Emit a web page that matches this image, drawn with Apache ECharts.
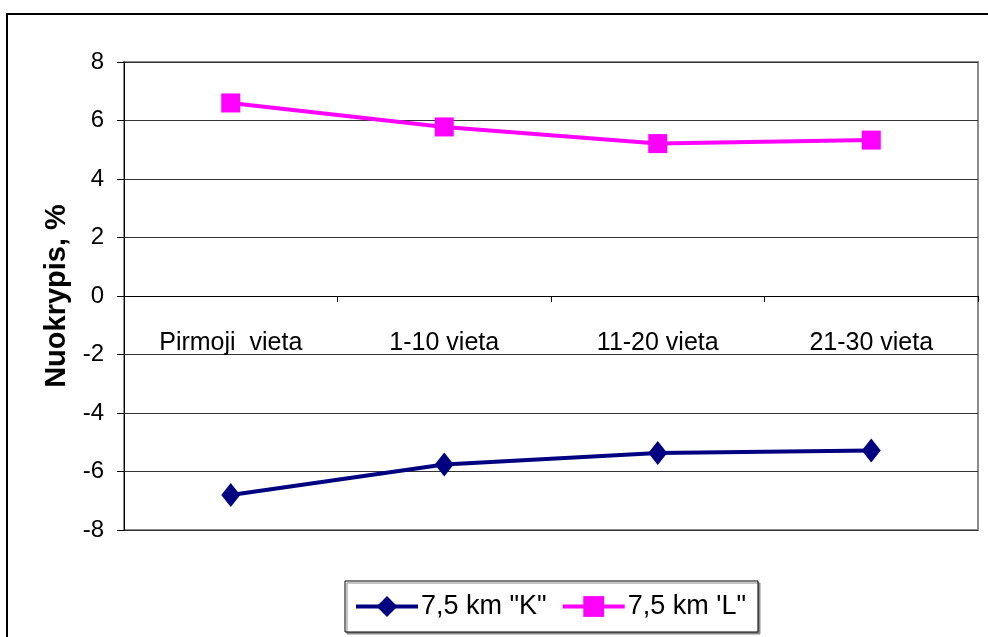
<!DOCTYPE html>
<html>
<head>
<meta charset="utf-8">
<script src="https://cdn.jsdelivr.net/npm/echarts@6/dist/echarts.min.js"></script>
<style>
  html, body { margin: 0; padding: 0; background: #fff; }
  #chart { width: 988px; height: 637px; }
</style>
</head>
<body>
<div id="chart"></div>
<script>
// Category labels along the x axis
const categories = ['Pirmoji  vieta', '1-10 vieta', '11-20 vieta', '21-30 vieta'];
// Deviation values, %
const seriesK = [-6.8, -5.76, -5.37, -5.28];
const seriesL = [6.6, 5.78, 5.21, 5.33];
const seriesNames = ['7,5 km "K"', "7,5 km 'L\""];
const yTicks = { min: -8, max: 8, interval: 2 };

const FONT = "'Liberation Sans', Arial, sans-serif";
const chart = echarts.init(document.getElementById('chart'), null, { renderer: 'canvas' });

chart.setOption({
  backgroundColor: '#fff',
  animation: false,
  graphic: [{
    type: 'rect',
    shape: { x: 7, y: 14, width: 1100, height: 800 },
    style: { fill: 'none', stroke: '#000', lineWidth: 2 },
    z: -1
  }],
  grid: {
    left: 124, top: 62, right: 10, bottom: 107,
    show: true, borderColor: '#8c8c8c', borderWidth: 2, backgroundColor: '#fff'
  },
  legend: {
    left: 345, top: 581,
    padding: [12, 12, 12, 9],
    itemGap: 14,
    itemWidth: 62,
    itemHeight: 26,
    borderColor: '#000', borderWidth: 1,
    backgroundColor: '#fff',
    shadowColor: '#8a8a8a', shadowOffsetX: 2, shadowOffsetY: 2, shadowBlur: 0,
    lineStyle: { width: 4 },
    textStyle: { fontFamily: FONT, fontSize: 27, color: '#000', padding: [0, 0, 0, -2] },
    data: seriesNames
  },
  xAxis: {
    type: 'category',
    data: categories,
    boundaryGap: true,
    axisLine: { onZero: true, lineStyle: { color: '#000', width: 1 } },
    axisTick: { show: true, length: 6, inside: false, lineStyle: { color: '#000' } },
    // labels sit just below the zero line rather than at the grid bottom
    axisLabel: { margin: -199, fontFamily: FONT, fontSize: 25, color: '#000' },
    splitLine: { show: false }
  },
  yAxis: {
    type: 'value',
    min: yTicks.min, max: yTicks.max, interval: yTicks.interval,
    name: 'Nuokrypis, %',
    nameLocation: 'middle',
    nameGap: 53,
    nameTextStyle: { fontFamily: FONT, fontSize: 29, fontWeight: 'bold', color: '#000' },
    axisLine: { show: true, lineStyle: { color: '#000', width: 1 } },
    axisTick: { show: true, length: 7, lineStyle: { color: '#000' } },
    axisLabel: { margin: 20, fontFamily: FONT, fontSize: 24, color: '#000' },
    splitLine: { show: true, lineStyle: { color: '#333', width: 1 } }
  },
  series: [
    {
      name: seriesNames[0],
      type: 'line',
      data: seriesK,
      symbol: 'diamond',
      symbolSize: [19, 24],
      lineStyle: { color: '#000080', width: 4 },
      itemStyle: { color: '#000080' }
    },
    {
      name: seriesNames[1],
      type: 'line',
      data: seriesL,
      symbol: 'rect',
      symbolSize: 19,
      lineStyle: { color: '#ff00ff', width: 4 },
      itemStyle: { color: '#ff00ff' }
    }
  ]
});
</script>
</body>
</html>
